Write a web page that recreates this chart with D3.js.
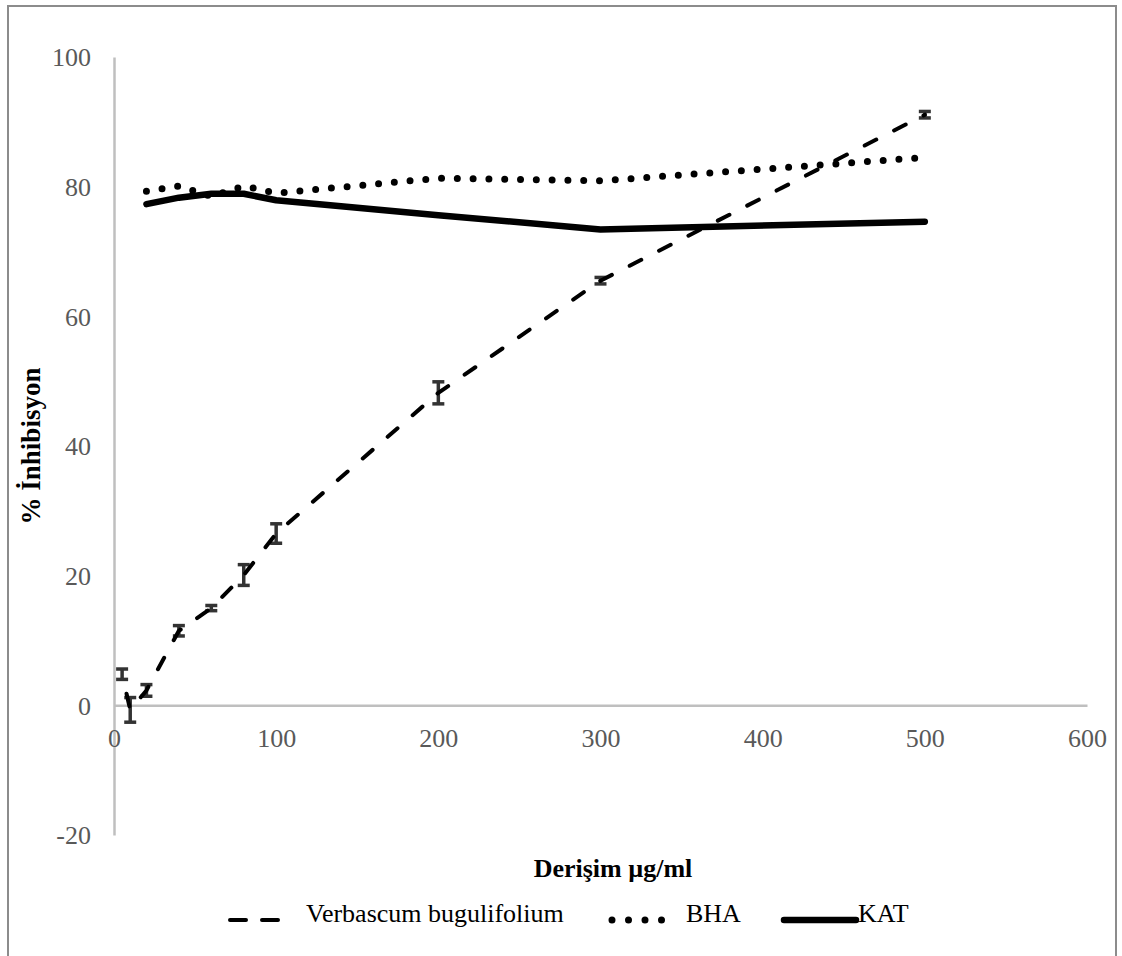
<!DOCTYPE html>
<html>
<head>
<meta charset="utf-8">
<script src="https://cdn.jsdelivr.net/npm/d3@7"></script>
<style>
  body { margin: 0; background: #fff; }
  text { font-family: "Liberation Serif", "Times New Roman", serif; }
</style>
</head>
<body>
<svg id="chart" width="1122" height="956"></svg>
<script>
// concentrations (µg/ml) and % inhibition
var concVerbascum = [5, 10, 20, 40, 60, 80, 100, 200, 300, 500];
var inhVerbascum = [4.8, -0.7, 2.3, 11.5, 15.0, 20.1, 26.5, 48.2, 65.5, 91.1];
var errVerbascum = [0.8, 1.9, 0.9, 0.8, 0.4, 1.6, 1.5, 1.7, 0.5, 0.5];

var concStandards = [20, 40, 60, 80, 100, 200, 300, 500];
var inhBHA = [79.3, 80.1, 78.5, 80.1, 79.0, 81.3, 80.9, 84.5];
var inhKAT = [77.3, 78.3, 78.9, 78.9, 77.9, 75.6, 73.4, 74.6];

var xTicks = [0, 100, 200, 300, 400, 500, 600];
var yTicks = [-20, 0, 20, 40, 60, 80, 100];

var seriesNames = ["Verbascum bugulifolium", "BHA", "KAT"];

var svg = d3.select("#chart");

// outer frame
svg.append("rect")
  .attr("x", 8).attr("y", 6)
  .attr("width", 1108).attr("height", 960)
  .attr("fill", "none")
  .attr("stroke", "#8c8c8c")
  .attr("stroke-width", 2);

var x = d3.scaleLinear().domain([0, 600]).range([114, 1087]);
var y = d3.scaleLinear().domain([-20, 100]).range([835, 57]);

// plain hyphen for negatives, like the original
var fmt = function(d) { return String(d); };

// y axis
var yAxis = svg.append("g")
  .attr("transform", "translate(" + x(0) + ",0)")
  .call(d3.axisLeft(y).tickValues(yTicks).tickFormat(fmt).tickSize(0).tickPadding(23));
yAxis.select(".domain").attr("stroke", "#bfbfbf").attr("stroke-width", 2.5);
yAxis.selectAll("text")
  .attr("fill", "#595959")
  .style("font-size", "26px")
  .attr("dy", "0.34em");

// x axis (crosses at 0)
var xAxis = svg.append("g")
  .attr("transform", "translate(0," + y(0) + ")")
  .call(d3.axisBottom(x).tickValues(xTicks).tickFormat(fmt).tickSize(0).tickSizeOuter(0));
xAxis.select(".domain").attr("stroke", "#bfbfbf").attr("stroke-width", 2.5);
xAxis.selectAll("text")
  .attr("fill", "#595959")
  .style("font-size", "26px")
  .attr("y", 42)
  .attr("dy", "0");

// axis titles
svg.append("text")
  .attr("transform", "translate(40," + ((y(100) + y(-20)) / 2) + ") rotate(-90)")
  .attr("text-anchor", "middle")
  .style("font-size", "27px")
  .style("font-weight", "bold")
  .text("% İnhibisyon");

svg.append("text")
  .attr("x", 613).attr("y", 877)
  .attr("text-anchor", "middle")
  .style("font-size", "26px")
  .style("font-weight", "bold")
  .text("Derişim µg/ml");

// error bars for the extract
var verbData = concVerbascum.map(function(c, i) {
  return { c: c, v: inhVerbascum[i], e: errVerbascum[i] };
});

var bars = svg.append("g")
  .attr("stroke", "#333")
  .attr("stroke-width", 3.5);
bars.selectAll("line.stem")
  .data(verbData).enter().append("line")
  .attr("class", "stem")
  .attr("x1", function(d) { return x(d.c); })
  .attr("x2", function(d) { return x(d.c); })
  .attr("y1", function(d) { return y(d.v - d.e); })
  .attr("y2", function(d) { return y(d.v + d.e); });
bars.selectAll("line.capTop")
  .data(verbData).enter().append("line")
  .attr("class", "capTop")
  .attr("x1", function(d) { return x(d.c) - 6; })
  .attr("x2", function(d) { return x(d.c) + 6; })
  .attr("y1", function(d) { return y(d.v + d.e); })
  .attr("y2", function(d) { return y(d.v + d.e); });
bars.selectAll("line.capBot")
  .data(verbData).enter().append("line")
  .attr("class", "capBot")
  .attr("x1", function(d) { return x(d.c) - 6; })
  .attr("x2", function(d) { return x(d.c) + 6; })
  .attr("y1", function(d) { return y(d.v - d.e); })
  .attr("y2", function(d) { return y(d.v - d.e); });

// lines
var line = d3.line()
  .x(function(d) { return x(d[0]); })
  .y(function(d) { return y(d[1]); });

var styles = [
  { width: 4, dash: "13 20", offset: 13 },
  { width: 7, dash: "0 15.8", offset: 0 },
  { width: 6.5, dash: null, offset: 0 }
];

var seriesData = [
  d3.zip(concVerbascum, inhVerbascum),
  d3.zip(concStandards, inhBHA),
  d3.zip(concStandards, inhKAT)
];

seriesData.forEach(function(pts, i) {
  svg.append("path")
    .datum(pts)
    .attr("d", line)
    .attr("fill", "none")
    .attr("stroke", "#000")
    .attr("stroke-width", styles[i].width)
    .attr("stroke-linecap", "round")
    .attr("stroke-linejoin", "round")
    .attr("stroke-dasharray", styles[i].dash)
    .attr("stroke-dashoffset", styles[i].offset);
});

// legend
var legendY = 920;
var legendItems = [
  { x0: 230, x1: 280, tx: 306 },
  { x0: 612, x1: 678, tx: 686 },
  { x0: 784, x1: 856, tx: 858 }
];
var legendDash = ["16 16", "0 16.5", null];

legendItems.forEach(function(it, i) {
  svg.append("line")
    .attr("x1", it.x0).attr("x2", it.x1)
    .attr("y1", legendY).attr("y2", legendY)
    .attr("stroke", "#000")
    .attr("stroke-width", styles[i].width)
    .attr("stroke-linecap", "round")
    .attr("stroke-dasharray", legendDash[i]);
  svg.append("text")
    .attr("x", it.tx).attr("y", legendY + 2)
    .style("font-size", "26px")
    .attr("fill", "#000")
    .text(seriesNames[i]);
});
</script>
</body>
</html>
